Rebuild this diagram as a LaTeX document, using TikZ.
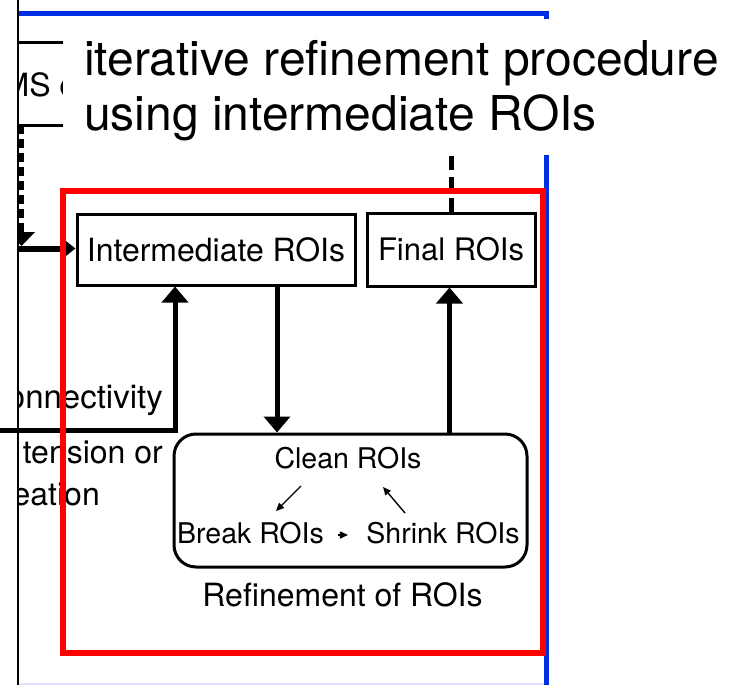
\documentclass[tikz,border=0pt]{standalone}
\usepackage{fontspec}
\setmainfont{TeX Gyre Heros}
\usetikzlibrary{arrows.meta}
\newcommand\fsz[1]{\fontsize{#1pt}{#1pt}\selectfont}

\begin{document}
\begin{tikzpicture}[x=1pt,y=-1pt,
  roibox/.style={draw=black, line width=3pt, inner sep=0pt, fill=white},
  flow/.style={line width=5pt, -{Triangle[width=26pt,length=16pt]}},
  sideflow/.style={line width=6pt, -{Triangle[width=18pt,length=12pt]}},
  dashflow/.style={line width=5pt, dash pattern=on 9pt off 5pt},
  longdash/.style={line width=5pt, dash pattern=on 14pt off 7pt},
  tiny/.style={line width=1.4pt, -{Triangle[width=7pt,length=8pt]}},
  lbl/.style={inner sep=0pt}]
\useasboundingbox (0,0) rectangle (731,685);

% outer blue frame
\draw[blue!12, line width=2pt] (18,684) -- (547,684);
\draw[blue!80!cyan!90!black, line width=5pt] (18,14) -- (546.5,14) -- (546.5,685);

% content cut off at the left border
\begin{scope}
  \clip (18,0) rectangle (731,685);
  \draw[line width=3pt] (0,43) -- (70,43);
  \draw[line width=3pt] (0,125) -- (70,125);
  \node[lbl, anchor=base west] (ms) at (2.5,96) {\fsz{32}MS c};

  \coordinate (dtop) at (21.5,125);
  \draw[dashflow] (dtop) -- (21.5,234);
  \fill (8,232) -- (35,232) -- (21.5,246) -- cycle;

  \node[lbl, anchor=base east] (conn) at (163,408) {\fsz{33}onnectivity};
  \node[lbl, anchor=base east] (ext) at (163,463) {\fsz{32}tension or};
  \node[lbl, anchor=base east] (crea) at (100,505) {\fsz{32}eation};
  \coordinate (cleft) at (0,430);
  \coordinate (hleft) at (0,248.5);
\end{scope}

% title on its white panel
\fill[white] (63,19) rectangle (731,155);
\node[lbl, anchor=base west] (title1) at (84,75) {\fsz{48}iterative refinement procedure};
\node[lbl, anchor=base west] (title2) at (84,130) {\fsz{48}using intermediate ROIs};

% main boxes
\node[roibox, minimum width=278pt, minimum height=71pt] (inter) at (216,249.5) {\fsz{32}Intermediate ROIs};
\node[roibox, minimum width=168pt, minimum height=73pt] (final) at (451,249.5) {\fsz{31}Final ROIs};
\node[roibox, rounded corners=22pt, minimum width=353pt, minimum height=133pt] (refine) at (350.5,500.5) {};

\node[lbl] (clean) at (348,458) {\fsz{28.5}Clean ROIs};
\node[lbl] (break) at (250.5,533) {\fsz{28.5}Break ROIs};
\node[lbl] (shrink) at (443,533) {\fsz{28.5}Shrink ROIs};
\node[lbl] (refcap) at (342.5,595) {\fsz{32}Refinement of ROIs};

% cycle inside the refinement step
\coordinate (c1) at (301,486);
\coordinate (c2) at (276,511);
\coordinate (s1) at (405,513);
\coordinate (s2) at (383,487);
\draw[tiny] (c1) -- (c2);
\draw[tiny] (s1) -- (s2);
\draw[tiny] (break.east) ++(14,2) -- ++(10,0);

% connectors
\draw[longdash] (final.north) -- (451,155);
\draw[flow] (inter.south -| 277,0) -- (refine.north -| 277,0);
\draw[flow] (refine.north -| 449.5,0) -- (final.south -| 449.5,0);
\draw[line width=5pt, -{Triangle[width=26pt,length=16pt]}, line join=miter]
  (cleft) -- (175,430) -- (inter.south -| 175,0);
\begin{scope}
  \clip (18,0) rectangle (731,685);
  \draw[sideflow] (hleft) -- (inter.west |- hleft);
\end{scope}

% highlighted refinement region
\draw[red, line width=6pt] (62.5,190.5) rectangle (542.5,653);

% left border
\draw[line width=2pt] (18,0) -- (18,685);
\end{tikzpicture}
\end{document}
